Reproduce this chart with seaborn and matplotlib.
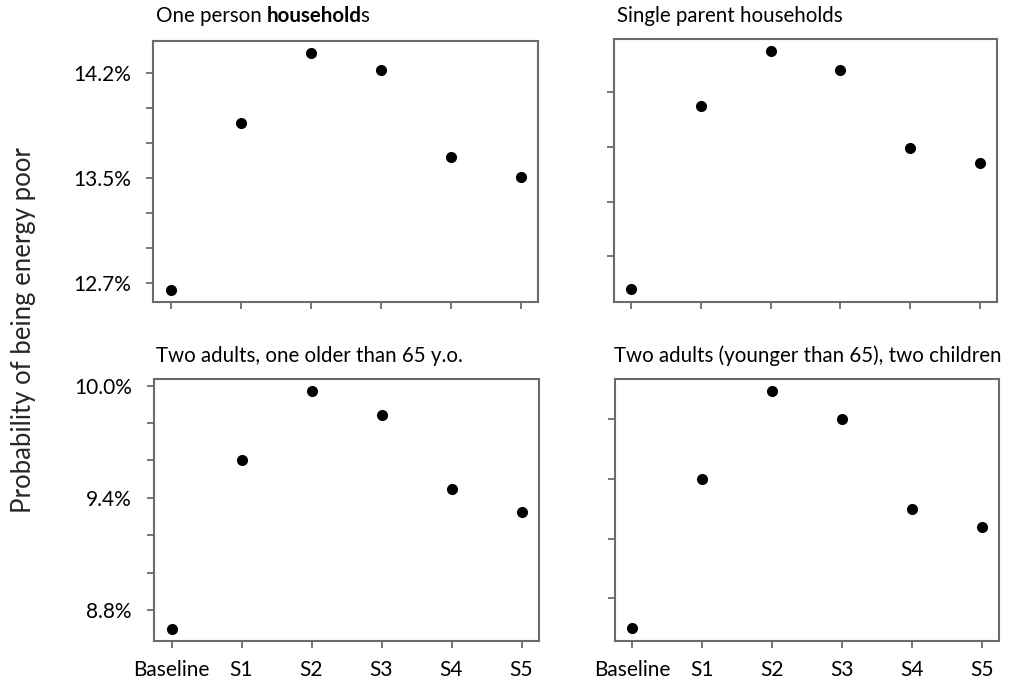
import matplotlib
matplotlib.use("Agg")
import matplotlib.pyplot as plt
import seaborn as sns

# scenarios on the x axis
scenarios = ["Baseline", "S1", "S2", "S3", "S4", "S5"]

# probability of being energy poor (%)
one_person = [12.65, 13.845, 14.343, 14.224, 13.598, 13.455]
single_parent = [17.70, 19.376, 19.878, 19.709, 18.991, 18.85]
two_adults_older = [8.70, 9.601, 9.973, 9.843, 9.447, 9.323]
two_adults_children = [10.75, 12.0, 12.74, 12.5, 11.75, 11.6]

# y ticks (right hand panels carry no labels in the original)
one_person_ticks = [12.7, 12.95, 13.2, 13.45, 13.7, 13.95, 14.2]
one_person_labels = ["12.7%", "", "", "13.5%", "", "", "14.2%"]
single_parent_ticks = [18.0, 18.5, 19.0, 19.5]
older_ticks = [8.8, 9.0, 9.2, 9.4, 9.6, 9.8, 10.0]
older_labels = ["8.8%", "", "", "9.4%", "", "", "10.0%"]
children_ticks = [11.0, 11.5, 12.0, 12.5]

sns.set_theme(style="ticks")
plt.rcParams["font.family"] = ["Lato", "DejaVu Sans"]
EDGE = "#6b6b6b"

W, H = 1018, 686
fig = plt.figure(figsize=(W / 100, H / 100), dpi=100)


def make_axes(left, right, top, bottom):
    return fig.add_axes([left / W, 1 - bottom / H, (right - left) / W, (bottom - top) / H])


panels = [
    (make_axes(153, 538, 41, 302), one_person, one_person_ticks, one_person_labels, (12.564, 14.43), False),
    (make_axes(614, 997, 39, 302), single_parent, single_parent_ticks, None, (17.58, 19.99), False),
    (make_axes(154, 539, 379, 641), two_adults_older, older_ticks, older_labels, (8.634, 10.036), True),
    (make_axes(615, 999, 379, 641), two_adults_children, children_ticks, None, (10.64, 12.84), True),
]

for ax, values, yticks, ylabels, ylim, show_x in panels:
    sns.stripplot(x=scenarios, y=values, jitter=False, color="black", size=8, ax=ax)
    ax.set_xlim(-0.25, 5.25)
    ax.set_ylim(*ylim)
    ax.set_yticks(yticks)
    if ylabels is None:
        ax.set_yticklabels([])
    else:
        ax.set_yticklabels(ylabels)
    if not show_x:
        ax.set_xticklabels([])
    for sp in ax.spines.values():
        sp.set_visible(True)
        sp.set_color(EDGE)
        sp.set_linewidth(1.5)
    ax.tick_params(axis="both", colors=EDGE, width=1.3, length=5, labelcolor="black",
                   labelsize=15)
    ax.tick_params(axis="y", pad=11)
    ax.tick_params(axis="x", pad=9)
    ax.set_xlabel("")
    ax.set_ylabel("")

# panel titles
title_kw = dict(fontsize=14.8, va="baseline", ha="left", color="black")
fig.text(617 / W, 1 - 22 / H, "Single parent households", **title_kw)
fig.text(156 / W, 1 - 362 / H, "Two adults, one older than 65 y.o.", **title_kw)
fig.text(614 / W, 1 - 362 / H, "Two adults (younger than 65), two children", **title_kw)

# first title has "household" in bold, as in the original
x = 156
renderer = fig.canvas.get_renderer()
for piece, weight, nudge in [("One person ", "normal", 0), ("household", "bold", 0), ("s", "normal", -2)]:
    t = fig.text((x + nudge) / W, 1 - 22 / H, piece, fontweight=weight, **title_kw)
    x = t.get_window_extent(renderer).x1

fig.text(24 / W, 1 - 330 / H, "Probability of being energy poor", rotation=90,
         va="center", ha="center", fontsize=18.5)

fig.savefig("out.png", dpi=100)
